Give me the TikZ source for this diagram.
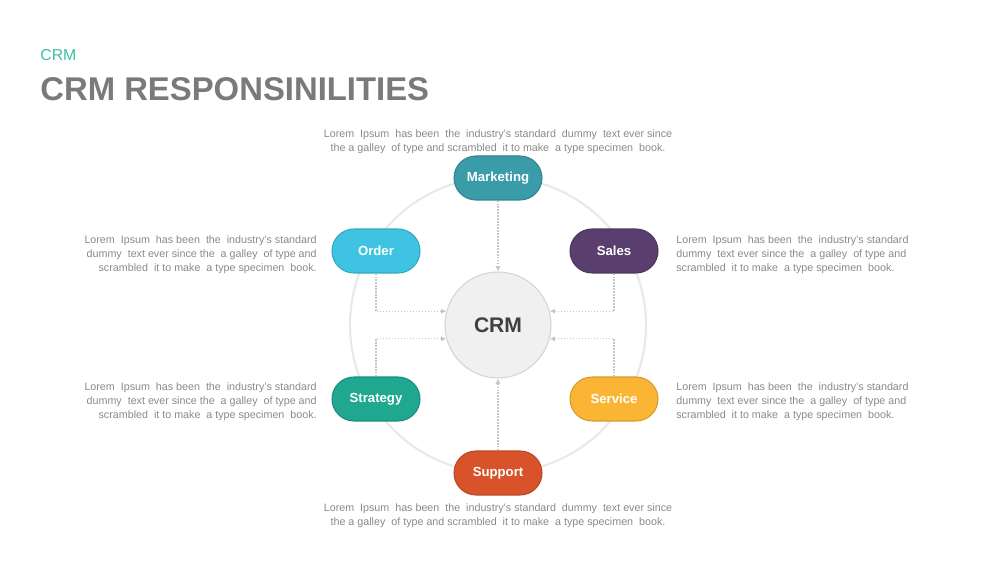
\documentclass[tikz,border=0pt]{standalone}
\usepackage{fontspec}
\setmainfont{Liberation Sans}
\usetikzlibrary{arrows.meta}

\definecolor{crmteal}{HTML}{3DBFA8}
\definecolor{titlegray}{HTML}{7A7A7A}
\definecolor{bodygray}{HTML}{8A8A8A}
\definecolor{ringgray}{HTML}{E9E9E9}
\definecolor{dotgray}{HTML}{C6C6C6}
\definecolor{marketingcol}{HTML}{3A9BA9}
\definecolor{ordercol}{HTML}{3EC4E2}
\definecolor{salescol}{HTML}{5A3F6E}
\definecolor{strategycol}{HTML}{1FA88F}
\definecolor{servicecol}{HTML}{FBB535}
\definecolor{supportcol}{HTML}{D8532A}

\tikzset{
  pill/.style={draw=#1!85!black, line width=0.6pt, fill=#1, rounded corners=0.44cm,
    minimum width=1.76cm, minimum height=0.88cm, inner sep=0pt,
    text=white, font=\fontsize{7.5}{9}\selectfont\bfseries},
  blurb/.style={text=bodygray, font=\fontsize{6.1}{7.9}\selectfont, inner sep=0pt},
  link/.style={dotgray, densely dotted, line width=0.7pt, -{Latex[length=3pt,width=3pt]}}
}

\begin{document}
\begin{tikzpicture}[x=0.02cm,y=-0.02cm]
\useasboundingbox[fill=white] (0,0) rectangle (1000,563);

% heading
\node[anchor=base west, inner sep=0pt, text=crmteal, font=\fontsize{9}{10}\selectfont] (kicker) at (40,61) {CRM};
\node[anchor=base west, inner sep=0pt, text=titlegray, font=\fontsize{18.7}{20}\selectfont\bfseries] (title) at (40,101) {CRM RESPONSINILITIES};

% ring and hub
\draw[ringgray, line width=1.2pt] (498,325) circle[radius=2.96cm];
\node[circle, draw=ringgray!80!gray, fill=gray!12, line width=0.6pt, minimum size=2.12cm,
  text=black!75, font=\fontsize{12}{14}\selectfont\bfseries] (crm) at (498,325) {CRM};

% the six tasks
\foreach \name/\x/\y/\col/\txt in {marketing/498/178/marketingcol/Marketing,
    order/376/251/ordercol/Order, sales/614/251/salescol/Sales,
    strategy/376/399/strategycol/Strategy, service/614/399/servicecol/Service,
    support/498/473/supportcol/Support}
  \node[pill=\col] (\name) at (\x,\y) {\txt};

% links into the hub
\draw[link] (marketing.south) -- (crm.north);
\draw[link] (support.north) -- (crm.south);
\draw[link] (order.south) |- (crm.165);
\draw[link] (sales.south) |- (crm.15);
\draw[link] (strategy.north) |- (crm.195);
\draw[link] (service.north) |- (crm.-15);

% descriptions
\node[blurb, align=center] (marketingtxt) at (498,142)
  {Lorem\ \ Ipsum\ \ has been\ \ the\ \ industry's standard\ \ dummy\ \ text ever since\\
   the a galley\ \ of type and scrambled\ \ it to make\ \ a type specimen\ \ book.};
\node[blurb, align=center] (supporttxt) at (498,516)
  {Lorem\ \ Ipsum\ \ has been\ \ the\ \ industry's standard\ \ dummy\ \ text ever since\\
   the a galley\ \ of type and scrambled\ \ it to make\ \ a type specimen\ \ book.};
\foreach \name/\y in {order/255, strategy/402}
  \node[blurb, align=right, anchor=east] (\name txt) at (317,\y)
    {Lorem\ \ Ipsum\ \ has been\ \ the\ \ industry's standard\\
     dummy\ \ text ever since the\ \ a galley\ \ of type and\\
     scrambled\ \ it to make\ \ a type specimen\ \ book.};
\foreach \name/\y in {sales/255, service/402}
  \node[blurb, align=left, anchor=west] (\name txt) at (676,\y)
    {Lorem\ \ Ipsum\ \ has been\ \ the\ \ industry's standard\\
     dummy\ \ text ever since the\ \ a galley\ \ of type and\\
     scrambled\ \ it to make\ \ a type specimen\ \ book.};
\end{tikzpicture}
\end{document}
